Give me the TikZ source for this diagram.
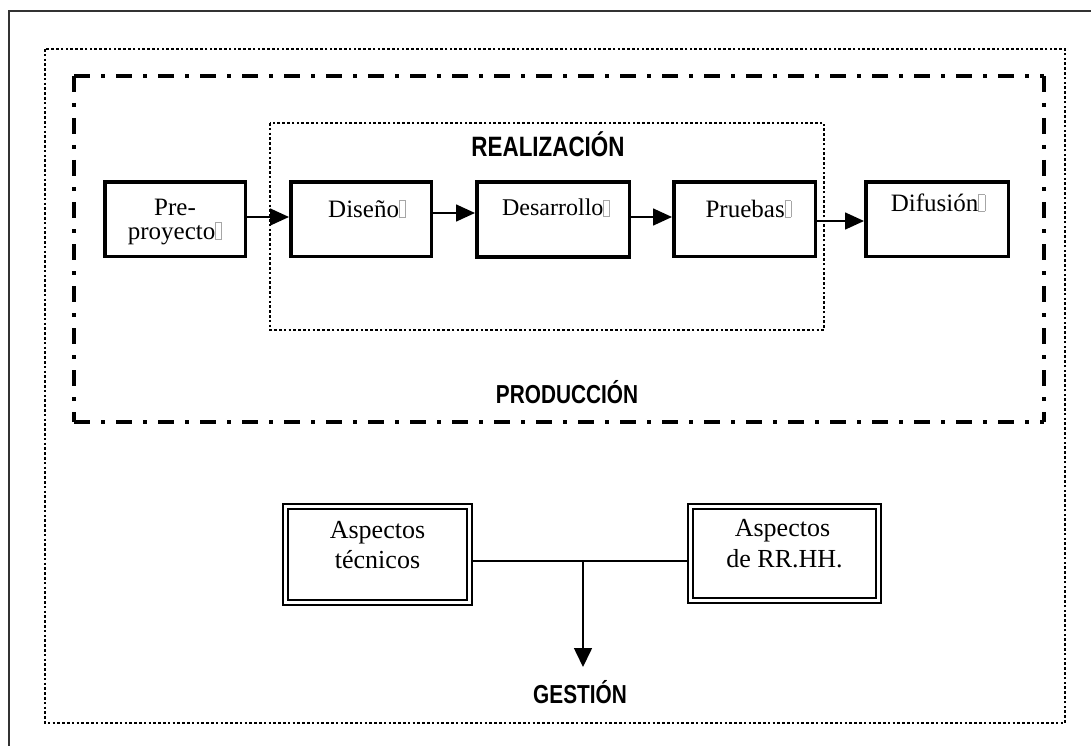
\documentclass[tikz,border=0pt]{standalone}
\usepackage{fontspec}
\setmainfont{Liberation Serif}
\newfontfamily\lblfont[FakeStretch=0.8]{Liberation Sans}
\usetikzlibrary{arrows.meta}

% replacement glyph box printed after some words
\newcommand{\missingglyph}{{\color{gray!70}\setlength{\fboxsep}{0pt}\setlength{\fboxrule}{0.6pt}\fbox{\rule{0pt}{0.64em}\hspace{0.22em}}}}

\tikzset{
  stagebox/.style={draw, line width=3.5pt, rectangle, inner sep=0pt, minimum height=74.5pt},
  dblbox/.style={draw, rectangle, line width=2pt, double, double distance=3pt, inner sep=0pt, outer sep=3.5pt},
  stagetext/.style={anchor=base, font=\fontsize{25}{22}\selectfont, inner sep=0pt},
  boxtext/.style={anchor=base, font=\fontsize{26}{30}\selectfont, inner sep=0pt},
  headtext/.style={anchor=base, font=\lblfont\bfseries\fontsize{26}{30}\selectfont, inner sep=0pt},
  flow/.style={line width=1.6pt, -{Triangle[length=19pt,width=17pt]}},
  plain/.style={line width=1.6pt},
  dotframe/.style={line width=2.6pt, dash pattern=on 2.6pt off 2.2pt},
  dashdot/.style={line width=4pt, dash pattern=on 16pt off 11pt on 4pt off 11pt},
}

\begin{document}
\begin{tikzpicture}[x=1pt, y=-1pt]
\useasboundingbox (0,0) rectangle (1091,746);

% outer page frame (top and left edges)
\draw[line width=2.5pt, gray!40!black] (1091,11) -- (9,11) -- (9,746);

% dotted enclosing frame
\draw[dotframe] (45,49) rectangle (1065,723);

% PRODUCCIÓN dash-dot frame, each side starting from its corner
\coordinate (ptl) at (74,76);
\coordinate (ptr) at (1044,76);
\coordinate (pbl) at (74,422);
\coordinate (pbr) at (1044,422);
\draw[dashdot] (ptl) -- (ptr);
\draw[dashdot] (ptl) -- (pbl);
\draw[dashdot] (ptr) -- (pbr);
\draw[dashdot] (pbl) -- (pbr);

% REALIZACIÓN dotted frame
\draw[dotframe] (270,123) rectangle (824,330);

% headings
\node[headtext, font=\lblfont\bfseries\fontsize{28}{30}\selectfont] (hreal) at (548,157) {REALIZACIÓN};
\node[headtext] (hprod) at (567,403) {PRODUCCIÓN};
\node[headtext] (hgest) at (580,703) {GESTIÓN};

% stage boxes
\node[stagebox, minimum width=140.5pt] (pre) at (175,219) {};
\node[stagebox, minimum width=140.5pt] (dis) at (361,219) {};
\node[stagebox, minimum width=152.5pt] (des) at (553,219.5) {};
\node[stagebox, minimum width=141.5pt] (pru) at (744.5,219) {};
\node[stagebox, minimum width=142.5pt] (dif) at (937,219) {};

% stage labels
\node[stagetext] (tpre1) at ([yshift=-35pt]pre.north) {Pre-};
\node[stagetext] (tpre2) at ([yshift=-59pt]pre.north) {proyecto\missingglyph};
\node[stagetext] (tdis) at ([xshift=6pt,yshift=-37pt]dis.north) {Diseño\missingglyph};
\node[stagetext, font=\fontsize{24}{22}\selectfont] (tdes) at ([xshift=3pt,yshift=-35pt]des.north) {Desarrollo\missingglyph};
\node[stagetext] (tpru) at ([xshift=4pt,yshift=-37pt]pru.north) {Pruebas\missingglyph};
\node[stagetext] (tdif) at ([xshift=1pt,yshift=-31pt]dif.north) {Difusión\missingglyph};

% stage flow
\draw[flow] ([yshift=2pt]pre.east) -- ([yshift=2pt]pre.east -| dis.west);
\draw[flow] ([yshift=6pt]dis.east) -- ([yshift=6pt]dis.east -| des.west);
\draw[flow] ([yshift=2.5pt]des.east) -- ([yshift=2.5pt]des.east -| pru.west);
\draw[flow] ([yshift=-2pt]pru.east) -- ([yshift=-2pt]pru.east -| dif.west);

% management boxes
\node[dblbox, minimum width=184pt, minimum height=96pt] (tec) at (377.5,554.5) {};
\node[dblbox, minimum width=188pt, minimum height=94pt] (rrhh) at (784.5,553.5) {};
\node[boxtext] (ttec1) at ([yshift=-35pt]tec.north) {Aspectos};
\node[boxtext] (ttec2) at ([yshift=-65pt]tec.north) {técnicos};
\node[boxtext] (trr1) at ([xshift=-2pt,yshift=-33pt]rrhh.north) {Aspectos};
\node[boxtext] (trr2) at ([yshift=-64pt]rrhh.north) {de RR.HH.};

% management connector
\coordinate (join) at (583,561);
\coordinate (gtip) at (583,667);
\draw[plain] (tec.east |- join) -- (rrhh.west |- join);
\draw[line width=1.6pt, -{Triangle[length=19pt,width=18pt]}] (join) -- (gtip);
\end{tikzpicture}
\end{document}
